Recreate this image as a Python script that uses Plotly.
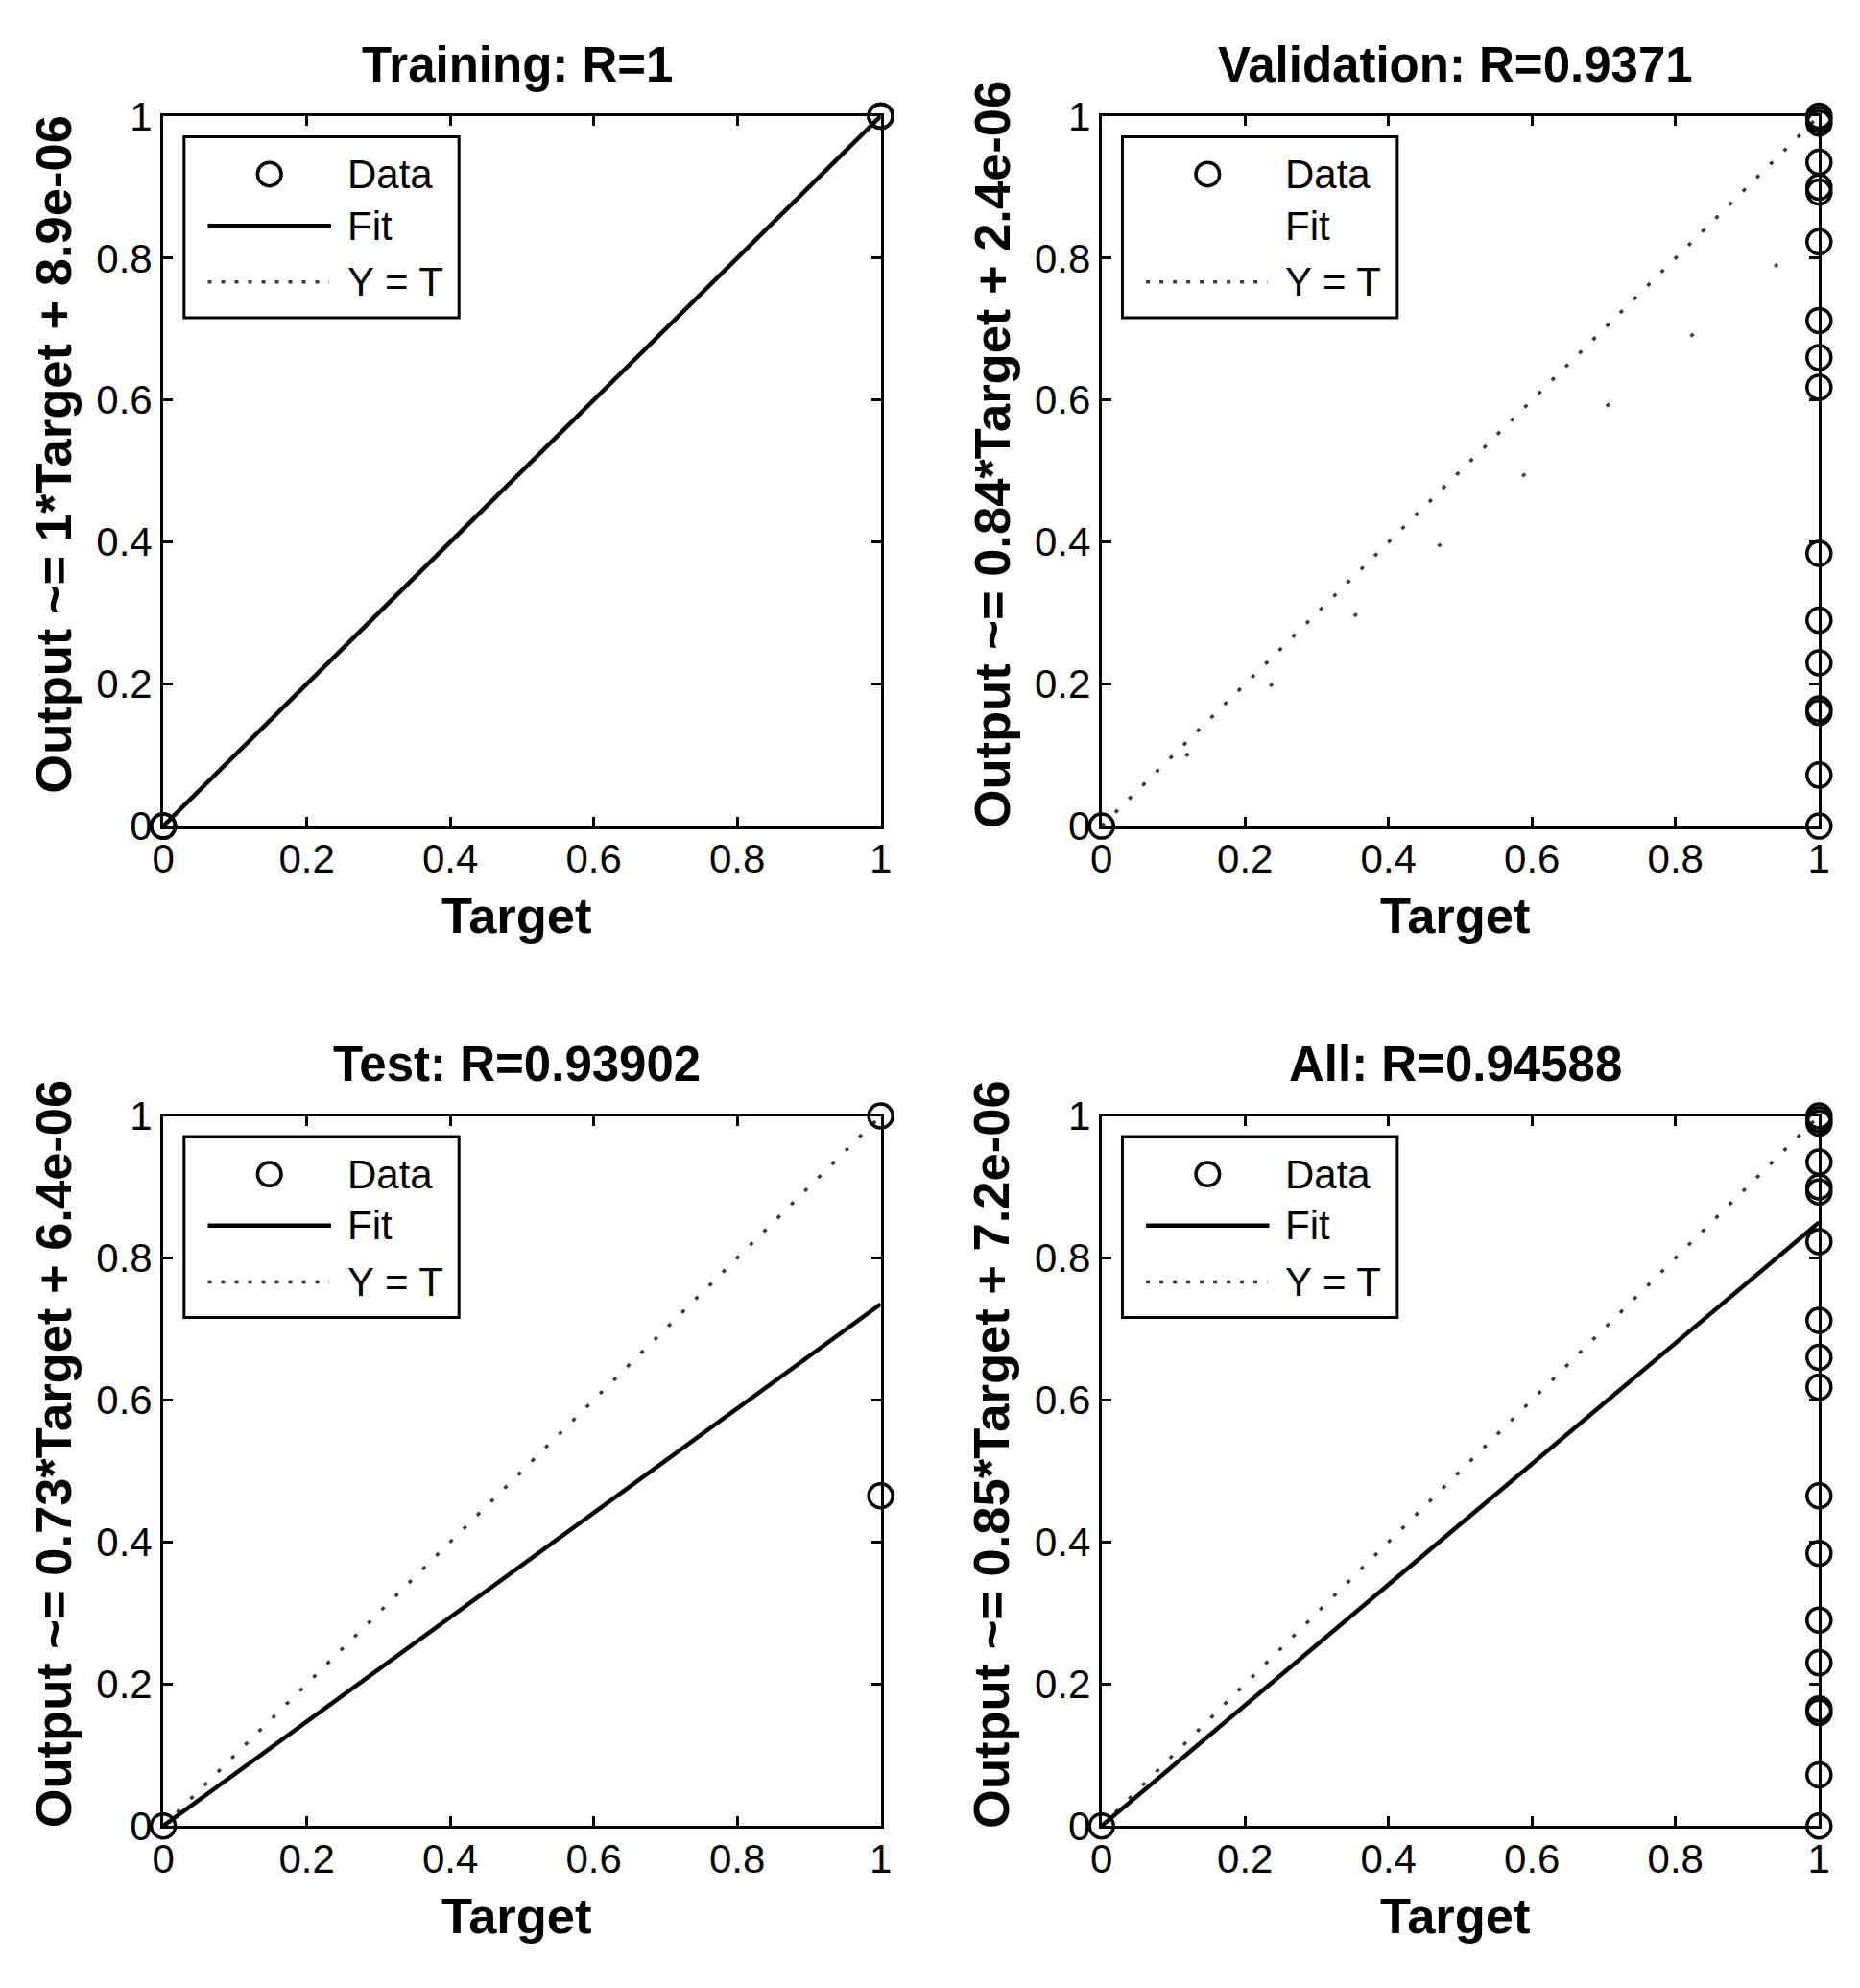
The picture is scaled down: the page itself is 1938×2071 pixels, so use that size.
import plotly.graph_objects as go

FONT = "Liberation Sans, Arial, Helvetica, sans-serif"

# ---------------- data ----------------
tick_vals = [0, 0.2, 0.4, 0.6, 0.8, 1]
tick_text = ["0", "0.2", "0.4", "0.6", "0.8", "1"]

panel_titles = ["Training: R=1", "Validation: R=0.9371", "Test: R=0.93902", "All: R=0.94588"]
y_titles = [
    "Output ~= 1*Target + 8.9e-06",
    "Output ~= 0.84*Target + 2.4e-06",
    "Output ~= 0.73*Target + 6.4e-06",
    "Output ~= 0.85*Target + 7.2e-06",
]
x_title = "Target"
legend_labels = ["Data", "Fit", "Y = T"]

train_target = [0, 0, 0, 1, 1, 1]
train_output = [0, 0, 0, 1, 1, 1]

val_target = [0, 1, 1, 1, 1, 1, 1, 1, 1, 1, 1, 1, 1, 1, 1, 1, 1, 1]
val_output = [0, 1.0, 0.995, 0.99, 0.935, 0.90, 0.893, 0.823, 0.712, 0.66,
              0.618, 0.384, 0.29, 0.23, 0.165, 0.16, 0.072, 0.0]

test_target = [0, 1, 1]
test_output = [0, 1.0, 0.465]

all_target = [0, 1, 1, 1, 1, 1, 1, 1, 1, 1, 1, 1, 1, 1, 1, 1, 1, 1, 1]
all_output = [0, 1.0, 0.995, 0.99, 0.935, 0.90, 0.893, 0.823, 0.712, 0.66,
              0.618, 0.465, 0.384, 0.29, 0.23, 0.165, 0.16, 0.072, 0.0]

fit_target = [0, 1]
train_fit = [0.0000089, 1.0000089]
val_fit = [0.0000024, 0.8400024]
test_fit = [0.0000064, 0.7350064]
all_fit = [0.0000072, 0.8500072]

ideal_target = [0, 1]
ideal_output = [0, 1]

panels = [
    (train_target, train_output, train_fit),
    (val_target, val_output, val_fit),
    (test_target, test_output, test_fit),
    (all_target, all_output, all_fit),
]

# ---------------- layout geometry (window pixels) ----------------
OFF = 8                      # default page body margin
W, H = 1938 - 2 * OFF, 2071 - 2 * OFF
PW = 757
px_left = [160 - OFF, 1150 - OFF, 160 - OFF, 1150 - OFF]
px_top = [100 - OFF, 100 - OFF, 1166 - OFF, 1166 - OFF]

fig = go.Figure()

for i, (tx, ty, fy) in enumerate(panels):
    n = "" if i == 0 else str(i + 1)
    xa, ya = "x" + n, "y" + n
    fig.add_trace(go.Scatter(x=ideal_target, y=ideal_output, mode="lines",
                             line=dict(color="#3a3a3a", width=3.5, dash="4px,16px"),
                             xaxis=xa, yaxis=ya, showlegend=False, hoverinfo="skip"))
    if i == 1:
        fit_line = dict(color="#444444", width=3.5, dash="4px,110px")
    else:
        fit_line = dict(color="black", width=4.5)
    fig.add_trace(go.Scatter(x=fit_target, y=fy, mode="lines", line=fit_line,
                             xaxis=xa, yaxis=ya, showlegend=False, hoverinfo="skip"))
    fig.add_trace(go.Scatter(x=tx, y=ty, mode="markers", cliponaxis=False,
                             marker=dict(symbol="circle-open", size=25, color="black",
                                         line=dict(width=3.5, color="black")),
                             xaxis=xa, yaxis=ya, showlegend=False))

layout = dict(
    width=W, height=H,
    margin=dict(l=0, r=0, t=0, b=0),
    paper_bgcolor="white", plot_bgcolor="white",
    font=dict(family=FONT, color="black", size=42),
    showlegend=False,
)

axis_common = dict(
    range=[0, 1], tickvals=tick_vals, ticktext=tick_text,
    ticks="inside", ticklen=10, tickwidth=2.5, tickcolor="black",
    showline=True, linewidth=3, linecolor="black", mirror="allticks",
    showgrid=False, zeroline=False, fixedrange=True,
    tickfont=dict(family=FONT, size=42, color="black"),
)

annotations = []
shapes = []
for i in range(4):
    n = "" if i == 0 else str(i + 1)
    x0 = px_left[i] / W
    x1 = (px_left[i] + PW) / W
    y1 = 1 - px_top[i] / H
    y0 = 1 - (px_top[i] + PW) / H
    layout["xaxis" + n] = dict(axis_common, domain=[x0, x1], anchor="y" + n,
                               ticklabelstandoff=-5)
    layout["yaxis" + n] = dict(axis_common, domain=[y0, y1], anchor="x" + n)

    cx = (px_left[i] + PW / 2 - 5) / W
    ty_px = px_top[i] - 55
    annotations.append(dict(text="<b>%s</b>" % panel_titles[i], x=cx, y=1 - ty_px / H,
                            xref="paper", yref="paper", xanchor="center", yanchor="middle",
                            showarrow=False, font=dict(family=FONT, size=51, color="black")))
    xt_px = px_top[i] + PW + 95
    annotations.append(dict(text="<b>%s</b>" % x_title, x=cx, y=1 - xt_px / H,
                            xref="paper", yref="paper", xanchor="center", yanchor="middle",
                            showarrow=False, font=dict(family=FONT, size=52.5, color="black")))
    yt_x = px_left[i] - 116
    yt_y = px_top[i] + PW / 2 - 18
    annotations.append(dict(text="<b>%s</b>" % y_titles[i], x=yt_x / W, y=1 - yt_y / H,
                            xref="paper", yref="paper", xanchor="center", yanchor="middle",
                            textangle=-90, showarrow=False,
                            font=dict(family=FONT, size=52.5, color="black")))

    # legend box drawn in axis-domain coordinates
    xd, yd = "x%s domain" % n, "y%s domain" % n
    shapes.append(dict(type="rect", xref=xd, yref=yd,
                       x0=22 / PW, x1=312 / PW, y0=1 - 215 / PW, y1=1 - 22 / PW,
                       line=dict(color="black", width=3), fillcolor="white", layer="above"))
    r = 12.5 / PW
    shapes.append(dict(type="circle", xref=xd, yref=yd,
                       x0=112 / PW - r, x1=112 / PW + r,
                       y0=1 - 62 / PW - r, y1=1 - 62 / PW + r,
                       line=dict(color="black", width=3.5), layer="above"))
    if i != 1:
        shapes.append(dict(type="line", xref=xd, yref=yd,
                           x0=47 / PW, x1=177 / PW, y0=1 - 117 / PW, y1=1 - 117 / PW,
                           line=dict(color="black", width=4.5), layer="above"))
    shapes.append(dict(type="line", xref=xd, yref=yd,
                       x0=47 / PW, x1=175 / PW, y0=1 - 177 / PW, y1=1 - 177 / PW,
                       line=dict(color="#3a3a3a", width=3.5, dash="4px,10px"), layer="above"))
    for k, lab in enumerate(legend_labels):
        ly = [62, 117, 177][k]
        annotations.append(dict(text=lab, x=192 / PW, y=1 - ly / PW, xref=xd, yref=yd,
                                xanchor="left", yanchor="middle", showarrow=False,
                                font=dict(family=FONT, size=42, color="black")))

layout["annotations"] = annotations
layout["shapes"] = shapes
fig.update_layout(**layout)

fig.write_html("out.html")
